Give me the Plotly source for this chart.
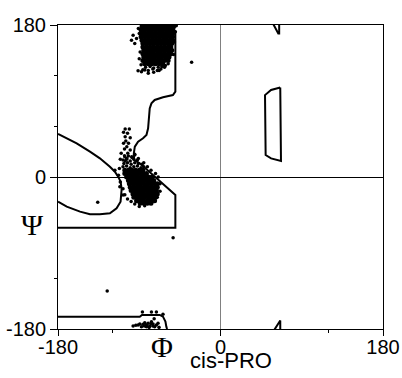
import plotly.graph_objects as go

# ---------------- data (degrees) ----------------
# dense core of the beta/PPII cluster (phi, psi)
top_core_phi = [-87,-83,-79,-75,-71,-67,-63,-59,-55,-52,
                -88,-84,-80,-76,-72,-68,-64,-60,-56,-53,
                -87,-83,-79,-75,-71,-67,-63,-59,-55,-53,
                -88,-84,-80,-76,-72,-68,-64,-60,-56,-53,
                -87,-83,-79,-75,-71,-67,-63,-59,-55,-53,
                -86,-82,-78,-74,-70,-66,-62,-58,-54,
                -86,-82,-78,-74,-70,-66,-62,-58,-55,
                -85,-81,-77,-73,-69,-65,-61,-57,-54,
                -86,-82,-78,-74,-70,-66,-62,-58,-55,
                -85,-81,-77,-73,-69,-65,-61,-57,
                -86,-82,-78,-74,-70,-66,-62,-58,
                -84,-80,-76,-72,-68,-64]
top_core_psi = [178]*10 + [174]*10 + [170]*10 + [166]*10 + [162]*10 + [158]*9 + \
               [154]*9 + [150]*9 + [146]*9 + [142]*8 + [138]*8 + [134]*6

top_fringe_phi = [-98.6,-96.8,-93,-95,-90,-91,-89,-90,-88,-91.3,-87.6,-83.9,-80,-74,-68,-62,-58,-52,-51,-50,-49,
                  -83,-78,-74,-69,-65,-86,-80,-75,-70,-66,-61,-60,-70,-78,-32]
top_fringe_psi = [162,168,164,158,170,176,148,140,133,125.9,124.7,126.7,123,124,126,130,134,145,160,172,179,
                  130,131,129,130,131,127,126,128,126,128,132,179,180,180,136]

# dense core of the alpha cluster (phi, psi)
mid_core_phi = [-106,-102,-98,-94,-90,-86,
                -106,-102,-98,-94,-90,-86,-82,
                -104,-100,-96,-92,-88,-84,-80,-76,
                -102,-98,-94,-90,-86,-82,-78,-74,
                -101,-97,-93,-89,-85,-81,-77,-73,-70,
                -100,-96,-92,-88,-84,-80,-76,-72,-70,
                -99,-95,-91,-87,-83,-79,-75,-71,
                -97,-93,-89,-85,-81,-77,-73,-70,
                -96,-92,-88,-84,-80,-76,-72,
                -93,-89,-85,-81,-77,-73,
                -89,-85,-81,-77]
mid_core_psi = [8]*6 + [4]*7 + [0]*8 + [-4]*8 + [-8]*9 + [-12]*9 + [-16]*8 + [-20]*8 + \
               [-24]*7 + [-28]*6 + [-31]*4

mid_fringe_phi = [-105.6,-101,-107.4,-103,-105.6,-100,-104.9,-107.4,-101.9,-103.8,-106.3,-100,-102.7,-106.3,-98.3,-103.8,-105.6,
                  -108,-104,-100,-96,-92,-88,-85,-107,-103,-99,-95,-91,-87,-108,-104,-100,-96,-92,-106,-102,-98,-95,
                  -112,-113,-111,-108,-106,-103,-99,-95,-90,-84,-78,-73,-70,-67,-67,-69,-72,-77,-81,-85,-91,-95,-111,-110,
                  -111.5,-107.9,-117,-136,-52.5,-125.5]
mid_fringe_psi = [56.8,56.8,52.9,51.7,47.7,46.5,42.6,39.9,39.9,35.9,33.2,32,28,25.2,24,22,19,
                  12,13,11,12,13,11,12,16,17,15,17,16,15,20,21,19,21,20,24,25,23,26,
                  10,2,-6,-14,-21,-26,-29,-32,-35,-34,-31,-28,-24,-17,-8,0,4,8,12,17,22,27,21,28,
                  -11.5,-21.3,8,-30,-72,-135]

bot_phi = [-96.8,-93.8,-91.3,-89.4,-87.6,-85.8,-83.9,-82,-80.2,-78.4,-76.5,-74.7,-72.9,-71,-69.2,-68.1,
           -82,-84.5,-79,-75,-77,-86.5,-76.5,-71,-63.7,-73.5]
bot_psi = [-176.4,-175.6,-175.2,-174.1,-177.2,-174.5,-172.5,-175.2,-173.3,-176.4,-171.3,-174.1,-177.2,-175.2,-173.3,-178,
           -177.2,-176.4,-178,-176.4,-173.5,-160,-160,-160,-162.6,-168]

# contour lines
c_main_phi = [-58,-53,-50,-50,-52.7,-63.7,-72.9,-76.5,-78.4,-79.1,-80.2,-82,-85.8,-91.3,-94.9,-96,-95.7,-89.4,-50,-50,-180]
c_main_psi = [180,178,172,101,97,94.4,91.2,87.2,81.3,71.4,57.6,49.7,45.8,41.8,35.9,28,20.1,16.2,-21.3,-60,-60]

c_bot_phi = [-180,-89.4,-87,-67.3,-63.7,-61,-60,-59.2]
c_bot_psi = [-165.4,-165.4,-163.4,-163.4,-165.4,-171.3,-177.2,-180]

c_left_phi = [-180,-159.3,-144.6,-133.6,-122.5,-117,-113.4,-110.7,-109.6,-109.6,-110.7,-115.1,-122.5,-133.6,-144.6,-155.6,-170.3,-180]
c_left_psi = [51,39.9,30,22.1,12.2,6.3,0.4,-5.5,-13.4,-15.4,-29.2,-37.1,-43,-44.2,-44.2,-41,-35.1,-29.2]

c_right_phi = [66.2,56,49.3,50,56,67,66.2]
c_right_psi = [106,103,97,26,22,19,106]

c_ttop_phi = [58.5,64,65,65]
c_ttop_psi = [181,170,170,181]

c_tbot_phi = [59.6,66.2,66.2]
c_tbot_psi = [-181,-170,-181]

major_ticks = [-180, 0, 180]
major_labels = ["-180", "0", "180"]
x_minor = [-120, 120]
y_minor = [-120, 60, 120]

# ---------------- figure ----------------
fig = go.Figure()
line_style = dict(color="black", width=2)
for px_, py_ in [(c_main_phi, c_main_psi), (c_bot_phi, c_bot_psi), (c_left_phi, c_left_psi),
                 (c_right_phi, c_right_psi), (c_ttop_phi, c_ttop_psi), (c_tbot_phi, c_tbot_psi)]:
    fig.add_trace(go.Scatter(x=px_, y=py_, mode="lines", line=line_style, hoverinfo="skip"))

fig.add_trace(go.Scatter(x=top_core_phi, y=top_core_psi, mode="markers",
                         marker=dict(color="black", size=5)))
fig.add_trace(go.Scatter(x=mid_core_phi, y=mid_core_psi, mode="markers",
                         marker=dict(color="black", size=5)))
fig.add_trace(go.Scatter(x=top_fringe_phi + mid_fringe_phi + bot_phi,
                         y=top_fringe_psi + mid_fringe_psi + bot_psi, mode="markers",
                         marker=dict(color="black", size=3.5)))

font_sans = "Liberation Sans, Arial, sans-serif"
axis_common = dict(range=[-180, 180], showgrid=False, showline=True, linecolor="black", linewidth=1,
                   mirror=True, tickvals=major_ticks, ticktext=major_labels, ticks="outside",
                   tickcolor="black", tickfont=dict(family=font_sans, size=20, color="black"),
                   zeroline=True, zerolinewidth=1, automargin=False)
fig.update_layout(
    width=402, height=378,
    margin=dict(l=58, r=19, t=25, b=49),
    paper_bgcolor="white", plot_bgcolor="white",
    showlegend=False,
    xaxis=dict(**axis_common, ticklen=6, zerolinecolor="#808080", ticklabelstandoff=-6,
               minor=dict(tickvals=x_minor, ticks="outside", ticklen=3, tickcolor="black")),
    yaxis=dict(**axis_common, ticklen=7, zerolinecolor="black",
               minor=dict(tickvals=y_minor, ticks="outside", ticklen=3, tickcolor="black")),
    annotations=[
        dict(text="Ψ", xref="paper", yref="paper", x=-0.0785, y=0.345, showarrow=False,
             xanchor="center", yanchor="middle",
             font=dict(family="Liberation Serif, Times New Roman, serif", size=30, color="black")),
        dict(text="Φ", xref="paper", yref="paper", x=0.3215, y=-0.0576, showarrow=False,
             xanchor="center", yanchor="middle",
             font=dict(family="Liberation Serif, Times New Roman, serif", size=30, color="black")),
        dict(text="cis-PRO", xref="paper", yref="paper", x=0.532, y=-0.105, showarrow=False,
             xanchor="center", yanchor="middle",
             font=dict(family=font_sans, size=22, color="black")),
    ],
)
# remove the browser's default 8px body margin so the figure fills the window exactly
fig.write_html("out.html", config={"displayModeBar": False},
               post_script="document.body.style.margin='0';")
